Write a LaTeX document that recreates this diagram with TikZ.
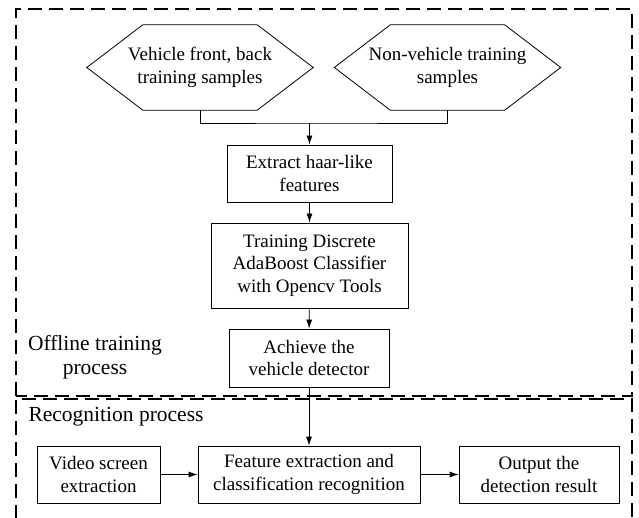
\documentclass[tikz,border=0pt]{standalone}
\usepackage{fontspec}
\setmainfont{Liberation Serif}
\usetikzlibrary{arrows.meta}

\begin{document}
\begin{tikzpicture}[
        x=1pt, y=-1pt,
        font=\fontsize{19}{22.5}\selectfont,
        box/.style={draw, line width=0.8pt, align=center, inner sep=0pt},
        sample/.style={minimum width=226pt, minimum height=85pt, align=center, inner sep=0pt},
        arrow/.style={-{Latex[length=9pt,width=6pt]}, line width=0.8pt},
        region/.style={dash pattern=on 14pt off 7pt, line width=1.6pt},
        caption/.style={font=\fontsize{21.5}{24}\selectfont, align=center}
    ]
    \useasboundingbox (0,0) rectangle (639,518);
    \clip (0,0) rectangle (639,518);

    % The two process regions
    \draw[region] (16,396) -- (16,9) -- (632,9) -- (632,396) -- cycle;
    \draw[region, line width=1.2pt] (16,540) -- (16,399) -- (632,399) -- (632,540);
    \node[caption] (offline) at (95,357) {Offline training\\process};
    \node[caption, anchor=west] (recognition) at (25,417) {Recognition process};

    % Training samples, outlined as hexagons
    \node[sample] (sample-veh) at (200,67.5) {Vehicle front, back\\training samples};
    \node[sample] (sample-non) at (447.5,67.5) {Non-vehicle training\\samples};
    \foreach \n in {sample-veh, sample-non}
        \draw[line width=0.8pt] (\n.west) -- ([xshift=56pt]\n.north west)
            -- ([xshift=-56pt]\n.north east) -- (\n.east)
            -- ([xshift=-56pt]\n.south east) -- ([xshift=56pt]\n.south west) -- cycle;
    \coordinate (join) at (309.5,123);

    % Offline training steps
    \node[box, minimum width=165pt, minimum height=57pt] (haar) at (309.5,173.5)
        {Extract haar-like\\features};
    \node[box, minimum width=197pt, minimum height=85pt] (train) at (309.5,265.5)
        {Training Discrete\\AdaBoost Classifier\\with Opencv Tools};
    \node[box, minimum width=160pt, minimum height=58pt] (detector) at (309,358)
        {Achieve the\\vehicle detector};

    % Recognition steps
    \node[box, minimum width=123pt, minimum height=57pt] (video) at (98.5,474.5)
        {Video screen\\extraction};
    \node[box, minimum width=222pt, minimum height=57pt] (feature) at (309,474.5)
        {Feature extraction and\\classification recognition};
    \node[box, minimum width=160pt, minimum height=57pt] (output) at (539,474.5)
        {Output the\\detection result};

    % Connectors
    \draw[line width=0.8pt] (sample-veh.south) |- (join) -| (sample-non.south);
    \draw[arrow] (join) -- (haar);
    \draw[arrow] (haar) -- (train);
    \draw[arrow] (train) -- (detector);
    \draw[arrow] (detector) -- (feature);
    \draw[arrow] (video) -- (feature);
    \draw[arrow] (feature) -- (output);
\end{tikzpicture}
\end{document}
